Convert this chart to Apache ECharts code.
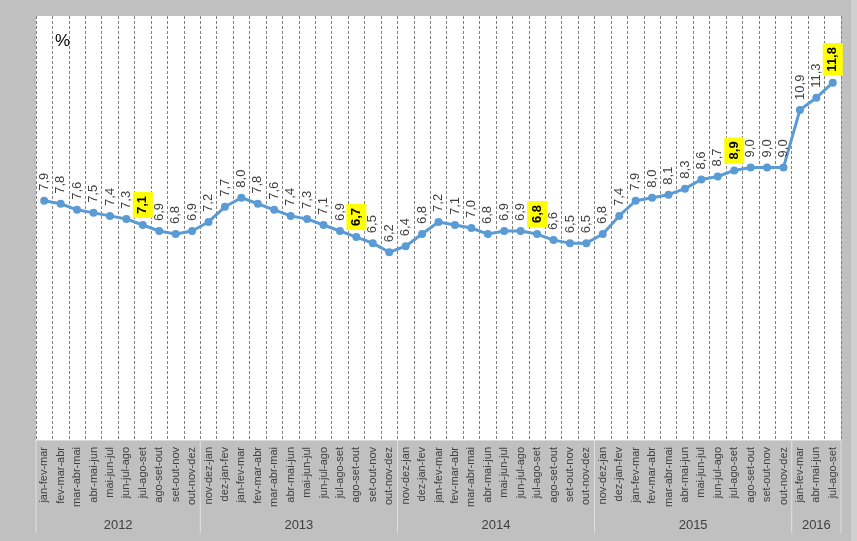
<!DOCTYPE html>
<html>
<head>
<meta charset="utf-8">
<script src="https://cdn.jsdelivr.net/npm/echarts@6/dist/echarts.min.js"></script>
<style>
html,body{margin:0;padding:0;background:#c0c0c0;}
#chart{width:857px;height:541px;}
</style>
</head>
<body>
<div id="chart"></div>
<script>
const categories = [
  'jan-fev-mar','fev-mar-abr','mar-abr-mai','abr-mai-jun','mai-jun-jul','jun-jul-ago','jul-ago-set','ago-set-out','set-out-nov','out-nov-dez',
  'nov-dez-jan','dez-jan-fev','jan-fev-mar','fev-mar-abr','mar-abr-mai','abr-mai-jun','mai-jun-jul','jun-jul-ago','jul-ago-set','ago-set-out','set-out-nov','out-nov-dez',
  'nov-dez-jan','dez-jan-fev','jan-fev-mar','fev-mar-abr','mar-abr-mai','abr-mai-jun','mai-jun-jul','jun-jul-ago','jul-ago-set','ago-set-out','set-out-nov','out-nov-dez',
  'nov-dez-jan','dez-jan-fev','jan-fev-mar','fev-mar-abr','mar-abr-mai','abr-mai-jun','mai-jun-jul','jun-jul-ago','jul-ago-set','ago-set-out','set-out-nov','out-nov-dez',
  'jan-fev-mar','abr-mai-jun','jul-ago-set'
];
const values = [
  7.9,7.8,7.6,7.5,7.4,7.3,7.1,6.9,6.8,6.9,
  7.2,7.7,8.0,7.8,7.6,7.4,7.3,7.1,6.9,6.7,6.5,6.2,
  6.4,6.8,7.2,7.1,7.0,6.8,6.9,6.9,6.8,6.6,6.5,6.5,
  6.8,7.4,7.9,8.0,8.1,8.3,8.6,8.7,8.9,9.0,9.0,9.0,
  10.9,11.3,11.8
];
const yearLabels = ['2012','2013','2014','2015','2016'];
const yearCounts = [10,12,12,12,3];
const highlighted = [6,19,30,42,48];

const fmt = v => v.toFixed(1).replace('.', ',');

const seriesData = values.map((v, i) => {
  if (highlighted.indexOf(i) >= 0) {
    return {
      value: v,
      label: {
        fontWeight: 'bold',
        color: '#000',
        fontSize: 13,
        backgroundColor: '#ffff00',
        padding: [4, 4, 3, 4],
        distance: 3
      }
    };
  }
  return v;
});

const chart = echarts.init(document.getElementById('chart'), null, {renderer: 'canvas'});
const option = {
  backgroundColor: '#c0c0c0',
  animation: false,
  grid: {
    left: 36, right: 16, top: 16, bottom: 101,
    show: true, backgroundColor: '#ffffff', borderWidth: 0
  },
  xAxis: {
    type: 'category',
    data: categories,
    boundaryGap: true,
    axisLine: {show: true, lineStyle: {color: '#d9d9d9'}},
    axisTick: {show: false},
    splitLine: {show: true, interval: 0, lineStyle: {color: '#808080', type: [3, 2], width: 1}},
    axisLabel: {
      interval: 0, rotate: 90, margin: 7,
      fontSize: 11, color: '#404040', fontFamily: 'Liberation Sans, Arial, sans-serif'
    }
  },
  yAxis: {
    type: 'value', min: 0, max: 14,
    show: false,
    splitLine: {show: false}
  },
  series: [{
    type: 'line',
    data: seriesData,
    symbol: 'circle',
    symbolSize: 8,
    lineStyle: {color: '#5b9bd5', width: 3},
    itemStyle: {color: '#5b9bd5'},
    label: {
      show: true,
      position: 'top',
      rotate: 90,
      align: 'left',
      verticalAlign: 'middle',
      distance: 6,
      fontSize: 13,
      color: '#404040',
      fontFamily: 'Liberation Sans, Arial, sans-serif',
      formatter: p => fmt(p.value)
    }
  }]
};
chart.setOption(option);

const p0 = chart.convertToPixel({xAxisIndex: 0}, 0);
const p1 = chart.convertToPixel({xAxisIndex: 0}, 1);
const band = p1 - p0;
const yBottom = chart.convertToPixel({yAxisIndex: 0}, 0);
const graphics = [];
let start = 0;
const boundaryX = k => p0 - band / 2 + k * band;
graphics.push({type: 'line', shape: {x1: boundaryX(0), y1: yBottom, x2: boundaryX(0), y2: 533}, style: {stroke: '#e0e0e0', lineWidth: 1}});
yearLabels.forEach((y, g) => {
  const end = start + yearCounts[g];
  const xe = boundaryX(end);
  const xm = (boundaryX(start) + xe) / 2;
  graphics.push({type: 'line', shape: {x1: xe, y1: yBottom, x2: xe, y2: 533}, style: {stroke: '#e0e0e0', lineWidth: 1}});
  graphics.push({type: 'text', x: xm, y: 525, style: {text: y, fontSize: 13, fill: '#404040', align: 'center', verticalAlign: 'middle', fontFamily: 'Liberation Sans, Arial, sans-serif'}});
  start = end;
});
graphics.push({type: 'text', x: 55, y: 41, style: {text: '%', fontSize: 17, fill: '#000', verticalAlign: 'middle', fontFamily: 'Liberation Sans, Arial, sans-serif'}});
graphics.push({type: 'rect', shape: {x: 851, y: 0, width: 6, height: 541}, style: {fill: '#d0d0d0'}});
chart.setOption({graphic: graphics});
</script>
</body>
</html>
